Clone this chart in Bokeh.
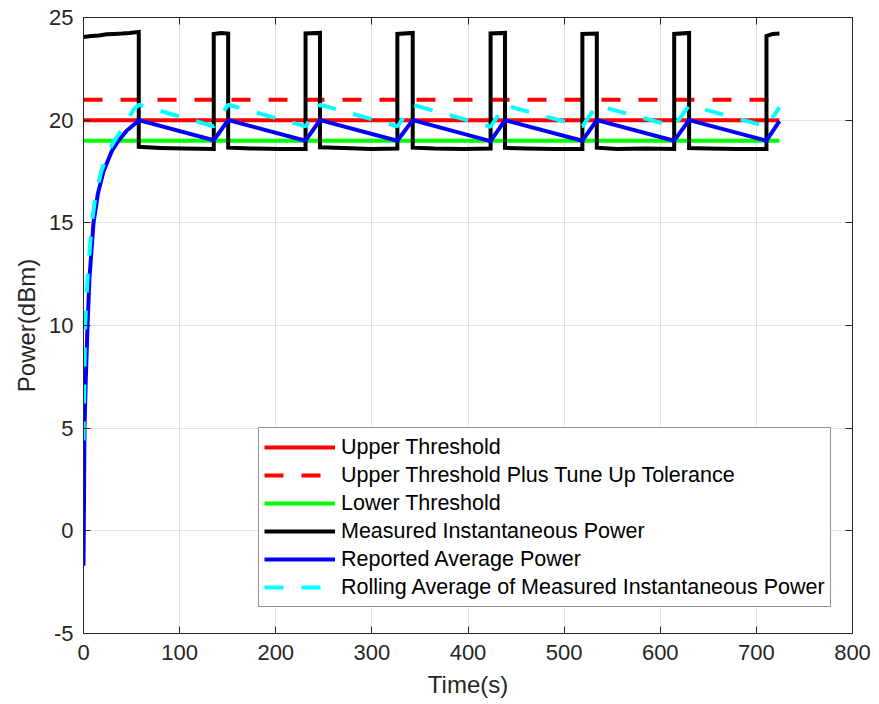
from bokeh.plotting import figure
from bokeh.models import Range1d, FixedTicker, LinearAxis, Legend, LegendItem
from bokeh.embed import file_html
from bokeh.resources import INLINE

# ---------------- data ----------------
x_ticks = [0, 100, 200, 300, 400, 500, 600, 700, 800]
y_ticks = [-5, 0, 5, 10, 15, 20, 25]
y_tick_labels = {-5: "-5", 0: "0", 5: "5", 10: "10", 15: "15", 20: "20", 25: "25"}

threshold_time = [0, 724]
upper_threshold = [20, 20]
upper_plus_tolerance = [21, 21]
lower_threshold = [19, 19]

measured_time = [0, 8, 16, 24, 32, 40, 48, 57.5,
                 57.5, 80, 105, 135.5,
                 135.5, 143, 150.5,
                 150.5, 175, 205, 231,
                 231, 246,
                 246, 270, 300, 326.5,
                 326.5, 342.5,
                 342.5, 365, 395, 423.5,
                 423.5, 438.5,
                 438.5, 460, 490, 519,
                 519, 534,
                 534, 555, 585, 614.5,
                 614.5, 630,
                 630, 650, 680, 710.5,
                 710.5, 717, 724]
measured_power = [24.05, 24.1, 24.12, 24.18, 24.2, 24.22, 24.25, 24.3,
                  18.7, 18.65, 18.62, 18.6,
                  24.2, 24.25, 24.22,
                  18.66, 18.62, 18.6, 18.6,
                  24.22, 24.25,
                  18.68, 18.64, 18.6, 18.62,
                  24.2, 24.25,
                  18.66, 18.62, 18.6, 18.62,
                  24.22, 24.25,
                  18.65, 18.62, 18.6, 18.6,
                  24.2, 24.22,
                  18.66, 18.6, 18.62, 18.6,
                  24.2, 24.25,
                  18.64, 18.62, 18.6, 18.6,
                  24.1, 24.2, 24.22]

reported_time = [0, 0.3, 1.0, 2.4, 4.2, 6.2, 10.4, 14.9, 20.8, 29.5, 36.4, 45.1, 55.5, 57.5,
                 135.5, 150.5, 231, 246, 326.5, 342.5, 423.5, 438.5, 519, 534, 614.5, 630, 710.5, 724]
reported_power = [-1.7, 0.0, 5.0, 7.4, 10.0, 12.3, 15.0, 16.4, 17.5, 18.5, 19.0, 19.5, 19.9, 20.0,
                  19.02, 20.0, 19.0, 20.0, 19.0, 20.0, 18.98, 20.0, 19.0, 20.0, 19.0, 20.0, 19.0, 19.95]

rolling_time = [0, 1.7, 4.2, 8.7, 12.8, 18.4, 26, 32.3, 39, 52, 57.5,
                135.5, 150.5, 231, 246, 326.5, 342.5, 423.5, 438.5, 519, 534, 614.5, 630, 710.5, 724]
rolling_power = [4.4, 10.0, 12.3, 15.0, 16.4, 17.5, 18.5, 19.0, 19.5, 20.5, 20.75,
                 19.7, 20.75, 19.7, 20.75, 19.7, 20.75, 19.68, 20.72, 19.7, 20.72, 19.7, 20.72, 19.7, 20.62]

series_labels = ["Upper Threshold",
                 "Upper Threshold Plus Tune Up Tolerance",
                 "Lower Threshold",
                 "Measured Instantaneous Power",
                 "Reported Average Power",
                 "Rolling Average of Measured Instantaneous Power"]

# ---------------- figure ----------------
FONT = "Liberation Sans"
AX = "#262626"
DASH = "19 18"

p = figure(width=874, height=704, output_backend="svg", toolbar_location=None,
           x_range=Range1d(0, 800), y_range=Range1d(-5, 25),
           min_border_left=83, min_border_right=22, min_border_top=17, min_border_bottom=71)
p.background_fill_color = "white"
p.border_fill_color = "white"
p.outline_line_color = AX
p.outline_line_width = 1

for ax in (p.xaxis[0], p.yaxis[0]):
    ax.axis_line_color = AX
    ax.major_tick_line_color = AX
    ax.major_tick_in = 7
    ax.major_tick_out = 0
    ax.minor_tick_line_color = None
    ax.major_label_text_font = FONT
    ax.major_label_text_font_size = "22px"
    ax.major_label_text_color = AX
    ax.axis_label_text_font = FONT
    ax.axis_label_text_font_size = "24px"
    ax.axis_label_text_font_style = "normal"
    ax.axis_label_text_color = AX

p.xaxis[0].ticker = FixedTicker(ticks=x_ticks)
p.yaxis[0].ticker = FixedTicker(ticks=y_ticks)
p.yaxis[0].major_label_overrides = y_tick_labels
p.xaxis[0].axis_label = "Time(s)"
p.yaxis[0].axis_label = "Power(dBm)"
p.xaxis[0].major_label_standoff = 11
p.xaxis[0].axis_label_standoff = 8
p.yaxis[0].major_label_standoff = 10
p.yaxis[0].axis_label_standoff = 6

# ticks on top and right edges
top = LinearAxis(ticker=FixedTicker(ticks=x_ticks))
right = LinearAxis(ticker=FixedTicker(ticks=y_ticks))
for ax in (top, right):
    ax.axis_line_color = AX
    ax.major_tick_line_color = AX
    ax.major_tick_in = 7
    ax.major_tick_out = 0
    ax.minor_tick_line_color = None
    ax.major_label_text_font_size = "0px"
    ax.major_label_text_color = None
    ax.major_label_standoff = 0
p.add_layout(top, "above")
p.add_layout(right, "right")

p.xgrid.ticker = FixedTicker(ticks=x_ticks)
p.ygrid.ticker = FixedTicker(ticks=y_ticks)
p.grid.grid_line_color = "#e2e2e2"
p.grid.grid_line_width = 1

r_up = p.line(threshold_time, upper_threshold, line_color="#ff0000", line_width=4)
r_tol = p.line(threshold_time, upper_plus_tolerance, line_color="#ff0000", line_width=4, line_dash=DASH)
r_low = p.line(threshold_time, lower_threshold, line_color="#00ff00", line_width=4)
r_meas = p.line(measured_time, measured_power, line_color="#000000", line_width=4, line_join="miter")
r_rep = p.line(reported_time, reported_power, line_color="#0000ff", line_width=4, line_join="round")
r_roll = p.line(rolling_time, rolling_power, line_color="#00ffff", line_width=4, line_dash=DASH)

items = [LegendItem(label=lab, renderers=[r])
         for lab, r in zip(series_labels, [r_up, r_tol, r_low, r_meas, r_rep, r_roll])]
legend = Legend(items=items, location=(175, 26))
legend.label_text_font = FONT
legend.label_text_font_size = "21.5px"
legend.label_text_color = "#000000"
legend.glyph_width = 71
legend.glyph_height = 28
legend.label_height = 28
legend.label_standoff = 6
legend.spacing = 0
legend.padding = 5
legend.margin = 0
legend.border_line_color = AX
legend.border_line_width = 1
legend.background_fill_color = "white"
legend.background_fill_alpha = 1.0
p.add_layout(legend)

open("out.html", "w").write(file_html(p, INLINE))
